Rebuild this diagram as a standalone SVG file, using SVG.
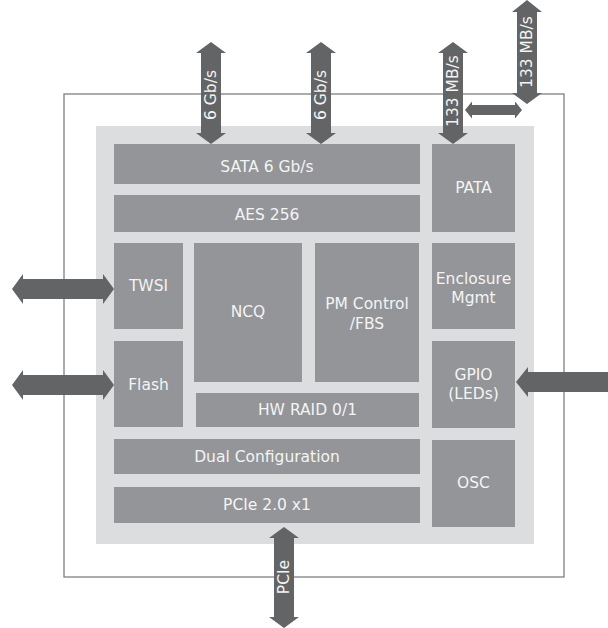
<svg xmlns="http://www.w3.org/2000/svg" width="608" height="628" viewBox="0 0 608 628">
<style>
.blk{fill:#939598}
.arr{fill:#636466}
.t{font-family:"DejaVu Sans",Verdana,sans-serif;font-size:15.5px;fill:#f4f4f4;text-anchor:middle}
</style>
<rect width="608" height="628" fill="#ffffff"/>
<rect x="64" y="94" width="500" height="483" fill="none" stroke="#808080" stroke-width="1.3"/>
<rect x="96" y="126" width="438" height="418" fill="#dcdddf"/>
<g id="sata"><rect class="blk" x="114" y="144" width="306" height="40"/><text class="t" x="267" y="172">SATA 6 Gb/s</text></g>
<g id="aes"><rect class="blk" x="114" y="195" width="306" height="37"/><text class="t" x="267" y="220">AES 256</text></g>
<g id="pata"><rect class="blk" x="432" y="144" width="83" height="88"/><text class="t" x="473.5" y="193">PATA</text></g>
<g id="twsi"><rect class="blk" x="114" y="243" width="69" height="86"/><text class="t" x="148.5" y="291">TWSI</text></g>
<g id="ncq"><rect class="blk" x="194" y="243" width="108" height="139"/><text class="t" x="248" y="317">NCQ</text></g>
<g id="pm"><rect class="blk" x="315" y="243" width="104" height="139"/><text class="t" x="367" y="309">PM Control</text><text class="t" x="367" y="329">/FBS</text></g>
<g id="enc"><rect class="blk" x="432" y="243" width="83" height="86"/><text class="t" x="473.5" y="284">Enclosure</text><text class="t" x="473.5" y="303">Mgmt</text></g>
<g id="flash"><rect class="blk" x="114" y="341" width="69" height="86"/><text class="t" x="148.5" y="390">Flash</text></g>
<g id="gpio"><rect class="blk" x="432" y="341" width="83" height="87"/><text class="t" x="473.5" y="380">GPIO</text><text class="t" x="473.5" y="399">(LEDs)</text></g>
<g id="raid"><rect class="blk" x="196" y="393" width="223" height="34"/><text class="t" x="307.5" y="415">HW RAID 0/1</text></g>
<g id="dual"><rect class="blk" x="114" y="439" width="306" height="35"/><text class="t" x="267" y="462">Dual Configuration</text></g>
<g id="osc"><rect class="blk" x="432" y="440" width="83" height="87"/><text class="t" x="473.5" y="488">OSC</text></g>
<g id="pcie"><rect class="blk" x="114" y="487" width="306" height="36"/><text class="t" x="267" y="510">PCIe 2.0 x1</text></g>
<g id="connectors">
<polygon class="arr" points="211,42 226,53 221,53 221,133 226,133 211,144 196,133 201,133 201,53 196,53"/>
<polygon class="arr" points="321,42 336,53 331,53 331,133 336,133 321,144 306,133 311,133 311,53 306,53"/>
<polygon class="arr" points="453,42 468,53 463,53 463,133 468,133 453,144 438,133 443,133 443,53 438,53"/>
<polygon class="arr" points="527,0 542,12 537,12 537,93 542,93 527,104 512,93 517,93 517,12 512,12"/>
<polygon class="arr" points="465,110 472,101.5 472,105 515,105 515,101.5 522,110 515,118.5 515,115 472,115 472,118.5"/>
<polygon class="arr" points="12,289 23,274 23,279 103,279 103,274 114,289 103,304 103,299 23,299 23,304"/>
<polygon class="arr" points="12,385 23,370 23,375 103,375 103,370 114,385 103,400 103,395 23,395 23,400"/>
<polygon class="arr" points="516,382 528,367 528,372 610,372 610,392 528,392 528,397"/>
<polygon class="arr" points="284,527 299,538 294,538 294,617 299,617 284,628 269,617 274,617 274,538 269,538"/>
<text class="t" transform="translate(216,95) rotate(-90)">6 Gb/s</text>
<text class="t" transform="translate(326,95) rotate(-90)">6 Gb/s</text>
<text class="t" transform="translate(458,91) rotate(-90)">133 MB/s</text>
<text class="t" transform="translate(532,52) rotate(-90)">133 MB/s</text>
<text class="t" transform="translate(289,577) rotate(-90)">PCIe</text>
</g>
</svg>
